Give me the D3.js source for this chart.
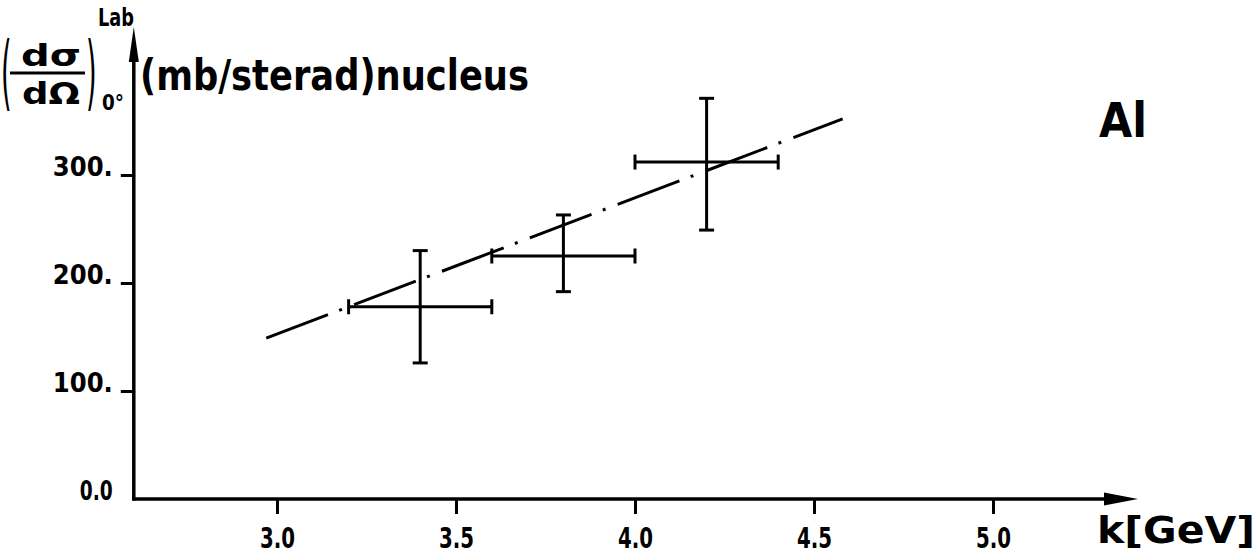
<!DOCTYPE html>
<html>
<head>
<meta charset="utf-8">
<script src="https://cdn.jsdelivr.net/npm/d3@7/dist/d3.min.js"></script>
<style>
  html, body { margin: 0; padding: 0; background: #fff; }
  svg { display: block; }
  text { font-family: "DejaVu Sans", sans-serif; fill: #000; }
</style>
</head>
<body>
<svg id="chart" width="1259" height="559"></svg>
<script>
// ---- data ----
const kValues = [3.4, 3.8, 4.2];          // photon energy k [GeV]
const kLow = [3.2, 3.6, 4.0];
const kHigh = [3.6, 4.0, 4.4];
const sigmaValues = [178, 225, 312];      // (dσ/dΩ) mb/sterad nucleus
const sigmaLow = [126, 192, 249];
const sigmaHigh = [230, 263, 371];
const fitK = [2.97, 4.58];                // dash-dot fit line
const fitSigma = [149, 352];
const xTickValues = [3.0, 3.5, 4.0, 4.5, 5.0];
const xTickLabels = ["3.0", "3.5", "4.0", "4.5", "5.0"];
const yTickValues = [0, 100, 200, 300];
const yTickLabels = ["0.0", "100.", "200.", "300."];

// ---- layout ----
const svg = d3.select("#chart");
const x = d3.scaleLinear().domain([3, 5]).range([277, 993]);
const y = d3.scaleLinear().domain([0, 300]).range([499, 175]);
const xOrigin = 2.6;
const x0 = x(xOrigin), y0 = y(0);
const ink = "#000";

// x axis ticks via d3 axis
const gx = svg.append("g").attr("transform", `translate(0,${y0})`)
  .call(d3.axisBottom(x).tickValues(xTickValues).tickSize(15).tickPadding(0)
    .tickFormat((d, i) => xTickLabels[i]));
gx.select(".domain").remove();
gx.selectAll(".tick line").attr("stroke", ink).attr("stroke-width", 3);
gx.selectAll(".tick text")
  .attr("y", 49).attr("dy", 0)
  .attr("font-size", 29).attr("font-weight", "bold")
  .attr("textLength", 35).attr("lengthAdjust", "spacingAndGlyphs")
  .attr("text-anchor", "middle");

// y axis ticks via d3 axis
const gy = svg.append("g").attr("transform", `translate(${x0},0)`)
  .call(d3.axisLeft(y).tickValues(yTickValues).tickSize(13).tickPadding(8)
    .tickFormat((d, i) => yTickLabels[i]));
gy.select(".domain").remove();
gy.selectAll(".tick line").attr("stroke", ink).attr("stroke-width", 3)
  .filter(d => d === 0).remove();
gy.selectAll(".tick text")
  .attr("dy", 0).attr("font-size", 27).attr("font-weight", "bold")
  .attr("textLength", d => d === 0 ? 33 : 60).attr("lengthAdjust", "spacingAndGlyphs");

// axis lines with arrows
const axisW = 3.5;
svg.append("line").attr("x1", x0 - 1.5).attr("x2", 1110).attr("y1", y0).attr("y2", y0)
  .attr("stroke", ink).attr("stroke-width", axisW);
svg.append("path").attr("d", `M1104,${y0 - 6.5} L1138,${y0} L1104,${y0 + 6.5} Z`).attr("fill", ink);
svg.append("line").attr("x1", x0).attr("x2", x0).attr("y1", y0 + 1.5).attr("y2", 58)
  .attr("stroke", ink).attr("stroke-width", axisW);
svg.append("path").attr("d", `M${x0 - 5},62 L${x0},27 L${x0 + 5},62 Z`).attr("fill", ink);

// fit line (dash-dot)
svg.append("path")
  .datum(fitK.map((k, i) => [k, fitSigma[i]]))
  .attr("d", d3.line().x(d => x(d[0])).y(d => y(d[1])))
  .attr("fill", "none").attr("stroke", ink).attr("stroke-width", 3)
  .attr("stroke-dasharray", "66,12,3,13");

// error bars
const cap = 7.5;
const eb = svg.append("g").attr("stroke", ink).attr("stroke-width", 3).attr("fill", "none");
kValues.forEach((k, i) => {
  const cx = x(k), cy = y(sigmaValues[i]);
  const yl = y(sigmaLow[i]), yh = y(sigmaHigh[i]);
  const xl = x(kLow[i]), xh = x(kHigh[i]);
  eb.append("line").attr("x1", cx).attr("x2", cx).attr("y1", yh).attr("y2", yl);
  eb.append("line").attr("x1", cx - cap).attr("x2", cx + cap).attr("y1", yh).attr("y2", yh);
  eb.append("line").attr("x1", cx - cap).attr("x2", cx + cap).attr("y1", yl).attr("y2", yl);
  eb.append("line").attr("x1", xl).attr("x2", xh).attr("y1", cy).attr("y2", cy);
  eb.append("line").attr("x1", xl).attr("x2", xl).attr("y1", cy - cap).attr("y2", cy + cap);
  eb.append("line").attr("x1", xh).attr("x2", xh).attr("y1", cy - cap).attr("y2", cy + cap);
});

// y axis label
const lab = svg.append("g");
// tall parentheses: small font stretched vertically so their boxes stay narrow
lab.append("text").attr("transform", "translate(1,100) scale(0.8,2.4)")
  .attr("font-size", 34).text("(");
lab.append("text").attr("transform", "translate(86,100) scale(0.8,2.4)")
  .attr("font-size", 34).text(")");
lab.append("text").attr("x", 21).attr("y", 66).attr("font-size", 30).attr("font-weight", "bold")
  .attr("textLength", 60).attr("lengthAdjust", "spacingAndGlyphs").text("dσ");
lab.append("line").attr("x1", 10).attr("x2", 85).attr("y1", 73).attr("y2", 73)
  .attr("stroke", ink).attr("stroke-width", 3);
lab.append("text").attr("x", 22).attr("y", 104).attr("font-size", 30).attr("font-weight", "bold")
  .attr("textLength", 58).attr("lengthAdjust", "spacingAndGlyphs").text("dΩ");
lab.append("text").attr("x", 98).attr("y", 26).attr("font-size", 24).attr("font-weight", "bold")
  .attr("textLength", 36).attr("lengthAdjust", "spacingAndGlyphs").text("Lab");
lab.append("text").attr("x", 102).attr("y", 110).attr("font-size", 22).attr("font-weight", "bold")
  .attr("textLength", 22).attr("lengthAdjust", "spacingAndGlyphs").text("0°");
lab.append("text").attr("x", 140).attr("y", 90).attr("font-size", 42).attr("font-weight", "bold")
  .attr("textLength", 389).attr("lengthAdjust", "spacingAndGlyphs").text("(mb/sterad)nucleus");

// x axis label
svg.append("text").attr("x", 1097).attr("y", 543).attr("font-size", 38).attr("font-weight", "bold")
  .attr("textLength", 158).attr("lengthAdjust", "spacingAndGlyphs").text("k[GeV]");

// element label
svg.append("text").attr("x", 1099).attr("y", 137).attr("font-size", 48).attr("font-weight", "bold")
  .attr("textLength", 48).attr("lengthAdjust", "spacingAndGlyphs").text("Al");
</script>
</body>
</html>
